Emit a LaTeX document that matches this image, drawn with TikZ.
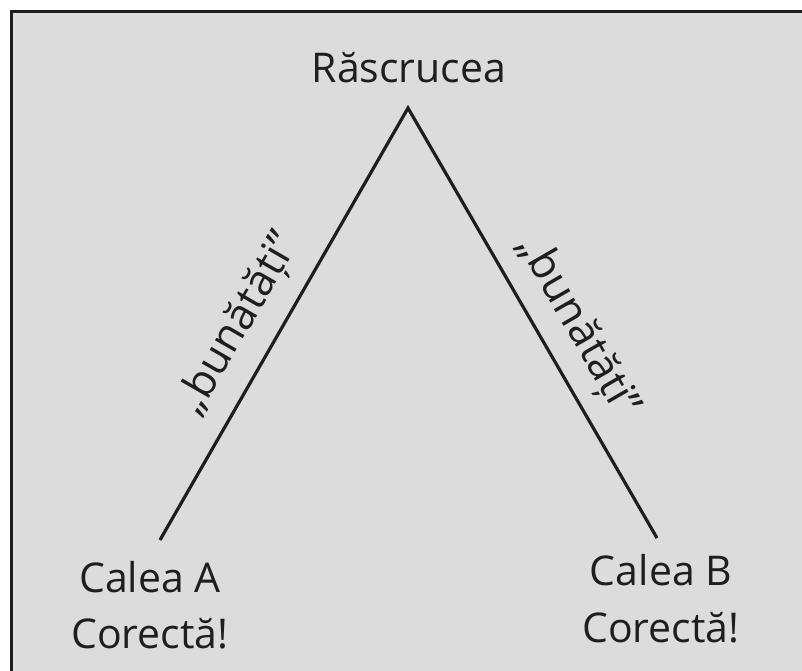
\documentclass[tikz,border=0pt]{standalone}
\usepackage{fontspec}
\setmainfont{Open Sans}
\definecolor{bg}{RGB}{220,220,221}
\definecolor{ink}{RGB}{30,30,30}
\tikzset{
  lbl/.style={font=\fontsize{41}{48}\selectfont, text=ink, inner sep=0pt},
  slant/.style={font=\fontsize{43}{48}\selectfont, text=ink, inner sep=0pt},
  road/.style={line width=3.2pt, draw=ink},
}
\begin{document}
\begin{tikzpicture}[x=1pt,y=-1pt]
\useasboundingbox (0,0) rectangle (802,670);
\clip (0,0) rectangle (802,670);
\fill[white] (0,0) rectangle (802,670);
\draw[fill=bg, line width=3pt, draw=ink] (11.5,11.5) rectangle (830,700);
\coordinate (apex) at (408,108);
\coordinate (endA) at (160,540);
\coordinate (endB) at (657,538);
\draw[road] (endA) -- (apex) -- (endB);
\node[lbl, anchor=base] (top) at (409,82) {Răscrucea};
\node[slant, rotate=60] (labA) at (239,324) {„bunătăți”};
\node[slant, rotate=-60] (labB) at (578,327) {„bunătăți”};
\node[lbl, anchor=base] (caleaA) at (150,592) {Calea A};
\node[lbl, anchor=base] (corA) at (150,648) {Corectă!};
\node[lbl, anchor=base] (caleaB) at (661,585) {Calea B};
\node[lbl, anchor=base] (corB) at (661,642) {Corectă!};
\end{tikzpicture}
\end{document}
